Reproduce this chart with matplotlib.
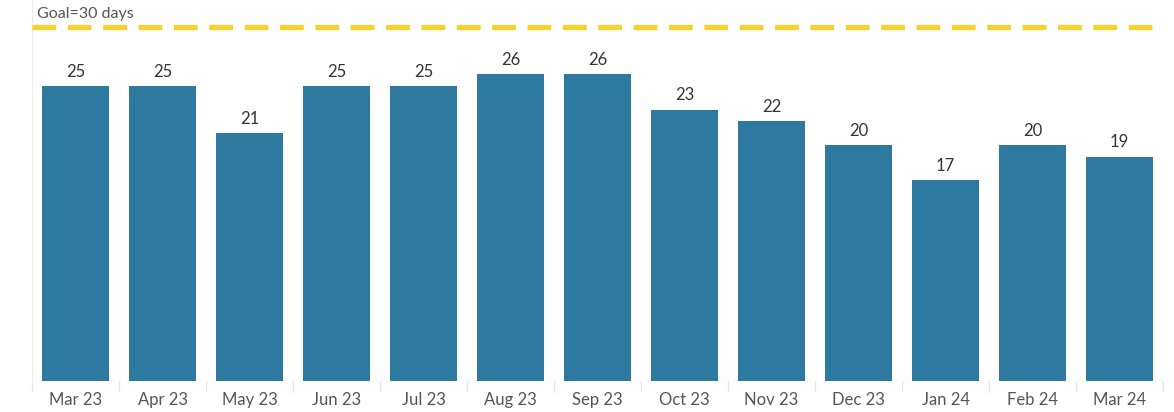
import matplotlib.pyplot as plt
import numpy as np

# données
months = ["Mar 23", "Apr 23", "May 23", "Jun 23", "Jul 23", "Aug 23", "Sep 23",
          "Oct 23", "Nov 23", "Dec 23", "Jan 24", "Feb 24", "Mar 24"]
days = [25, 25, 21, 25, 25, 26, 26, 23, 22, 20, 17, 20, 19]
goal = 30
goal_label = "Goal=30 days"

BAR = "#2E79A0"
GOLD = "#F9D12E"

plt.rcParams['font.family'] = ['Lato', 'DejaVu Sans']

fig = plt.figure(figsize=(11.74, 4.12), dpi=100)
ax = fig.add_axes([32 / 1174, 31 / 412, 1131 / 1174, 381 / 412])

x = np.arange(len(months))
ax.bar(x, days, width=0.77, color=BAR, zorder=2)
for xi, v in zip(x, days):
    ax.text(xi, v + 0.55, str(v), ha="center", va="bottom", fontsize=12, color="#333333")

ax.axhline(goal, color=GOLD, lw=3.8, dashes=(4.5, 2.2), zorder=3)
ax.text(0.06 - 0.5, goal + 0.5, goal_label, ha="left", va="bottom", fontsize=11.5, color="#555555")

ax.set_xlim(-0.5, len(months) - 0.5)
ax.set_ylim(0, 381 / 11.8)

for s in ["top", "right", "bottom"]:
    ax.spines[s].set_visible(False)
ax.spines["left"].set_color("#ececec")
ax.set_yticks([])

ax.set_xticks(x)
ax.set_xticklabels(months, fontsize=12, color="#555555")
ax.tick_params(axis="x", length=0, pad=8)
ax.set_xticks(np.arange(len(months) + 1) - 0.5, minor=True)
ax.tick_params(axis="x", which="minor", length=8, color="#e6e6e6", width=1)
ax.axhline(0, color="#eeeeee", lw=1, zorder=1)

fig.savefig("out.png", dpi=100)
